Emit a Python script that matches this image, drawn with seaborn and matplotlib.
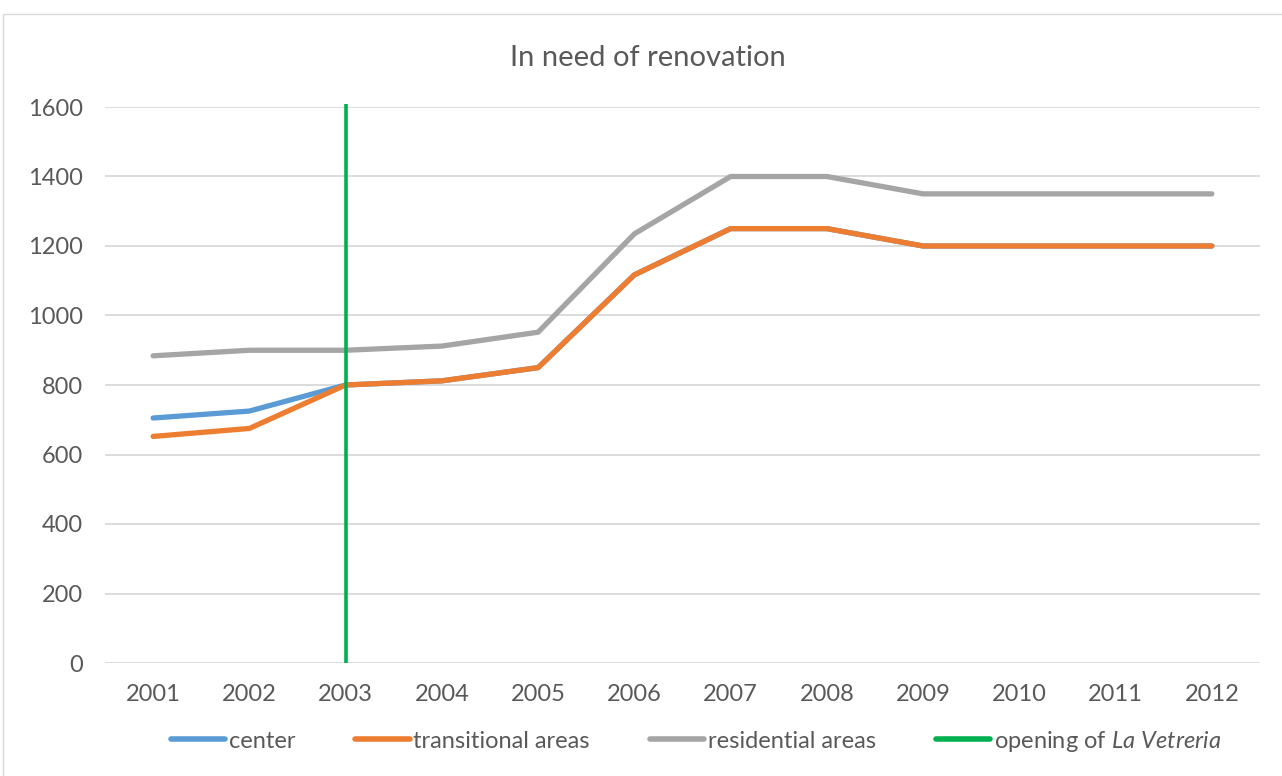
import matplotlib
matplotlib.use("Agg")
import matplotlib.pyplot as plt
from matplotlib.lines import Line2D
from matplotlib.patches import Rectangle
import seaborn as sns
import pandas as pd

years = [2001, 2002, 2003, 2004, 2005, 2006, 2007, 2008, 2009, 2010, 2011, 2012]
center = [705, 725, 800, 812, 850, 1117, 1250, 1250, 1200, 1200, 1200, 1200]
transitional = [652, 675, 800, 812, 850, 1117, 1250, 1250, 1200, 1200, 1200, 1200]
residential = [884, 900, 900, 912, 952, 1235, 1400, 1400, 1350, 1350, 1350, 1350]
series_names = ["center", "transitional areas", "residential areas"]
opening_year = 2003
y_ticks = [0, 200, 400, 600, 800, 1000, 1200, 1400, 1600]

colors = {"center": "#5B9BD5", "transitional areas": "#ED7D31", "residential areas": "#A5A5A5"}
green = "#00B050"
text_col = "#595959"
grid_col = "#D9D9D9"

sns.set_theme(style="white")
plt.rcParams["font.family"] = ["Lato", "DejaVu Sans"]
plt.rcParams["font.weight"] = "normal"
plt.rcParams["mathtext.fontset"] = "custom"
plt.rcParams["mathtext.it"] = "Lato:italic"
plt.rcParams["mathtext.rm"] = "Lato"

df = pd.DataFrame({
    "year": years * 3,
    "value": center + transitional + residential,
    "series": [series_names[0]] * len(years) + [series_names[1]] * len(years) + [series_names[2]] * len(years),
})

fig = plt.figure(figsize=(12.82, 7.76), dpi=100)
fig.patches.append(Rectangle((3 / 1282, -0.01), 1.02, 1 - 14 / 776 + 0.01, transform=fig.transFigure,
                             fill=False, edgecolor=grid_col, linewidth=1.0))
ax = fig.add_axes([105 / 1282, 1 - 663 / 776, (1260 - 105) / 1282, (663 - 107) / 776])

sns.lineplot(data=df, x="year", y="value", hue="series", hue_order=series_names,
             palette=colors, linewidth=3.8, ax=ax, legend=False, estimator=None,
             solid_capstyle="round")

ax.vlines(opening_year, 0, 1610, color=green, linewidth=2.6, clip_on=False, zorder=5)

ax.set_xlim(years[0] - 0.5, years[-1] + 0.5)
ax.set_ylim(0, 1600)
ax.set_xticks(years)
ax.set_xticklabels([str(y) for y in years])
ax.set_yticks(y_ticks)
ax.set_yticklabels([str(v) for v in y_ticks])
ax.yaxis.grid(True, color=grid_col, linewidth=1.3)
ax.set_axisbelow(True)
for s in ax.spines.values():
    s.set_visible(False)
ax.tick_params(axis="both", length=0, labelsize=17, colors=text_col)
ax.tick_params(axis="y", pad=16)
ax.tick_params(axis="x", pad=15)
ax.set_xlabel("")
ax.set_ylabel("")

fig.text(648 / 1282, 1 - 58 / 776, "In need of renovation", ha="center", va="center",
         fontsize=21, color=text_col)

handles = [Line2D([], [], color=colors[n], linewidth=4, solid_capstyle="round") for n in series_names]
handles.append(Line2D([], [], color=green, linewidth=4))
labels = series_names + [r"opening of $\it{La\ Vetreria}$"]
leg = fig.legend(handles, labels, loc="center", bbox_to_anchor=(696 / 1282, 1 - 741 / 776),
                 ncol=4, frameon=False, fontsize=17, handlelength=2.3, handletextpad=0.15,
                 columnspacing=2.55)
for t in leg.get_texts():
    t.set_color(text_col)

fig.savefig("out.png", dpi=100)
